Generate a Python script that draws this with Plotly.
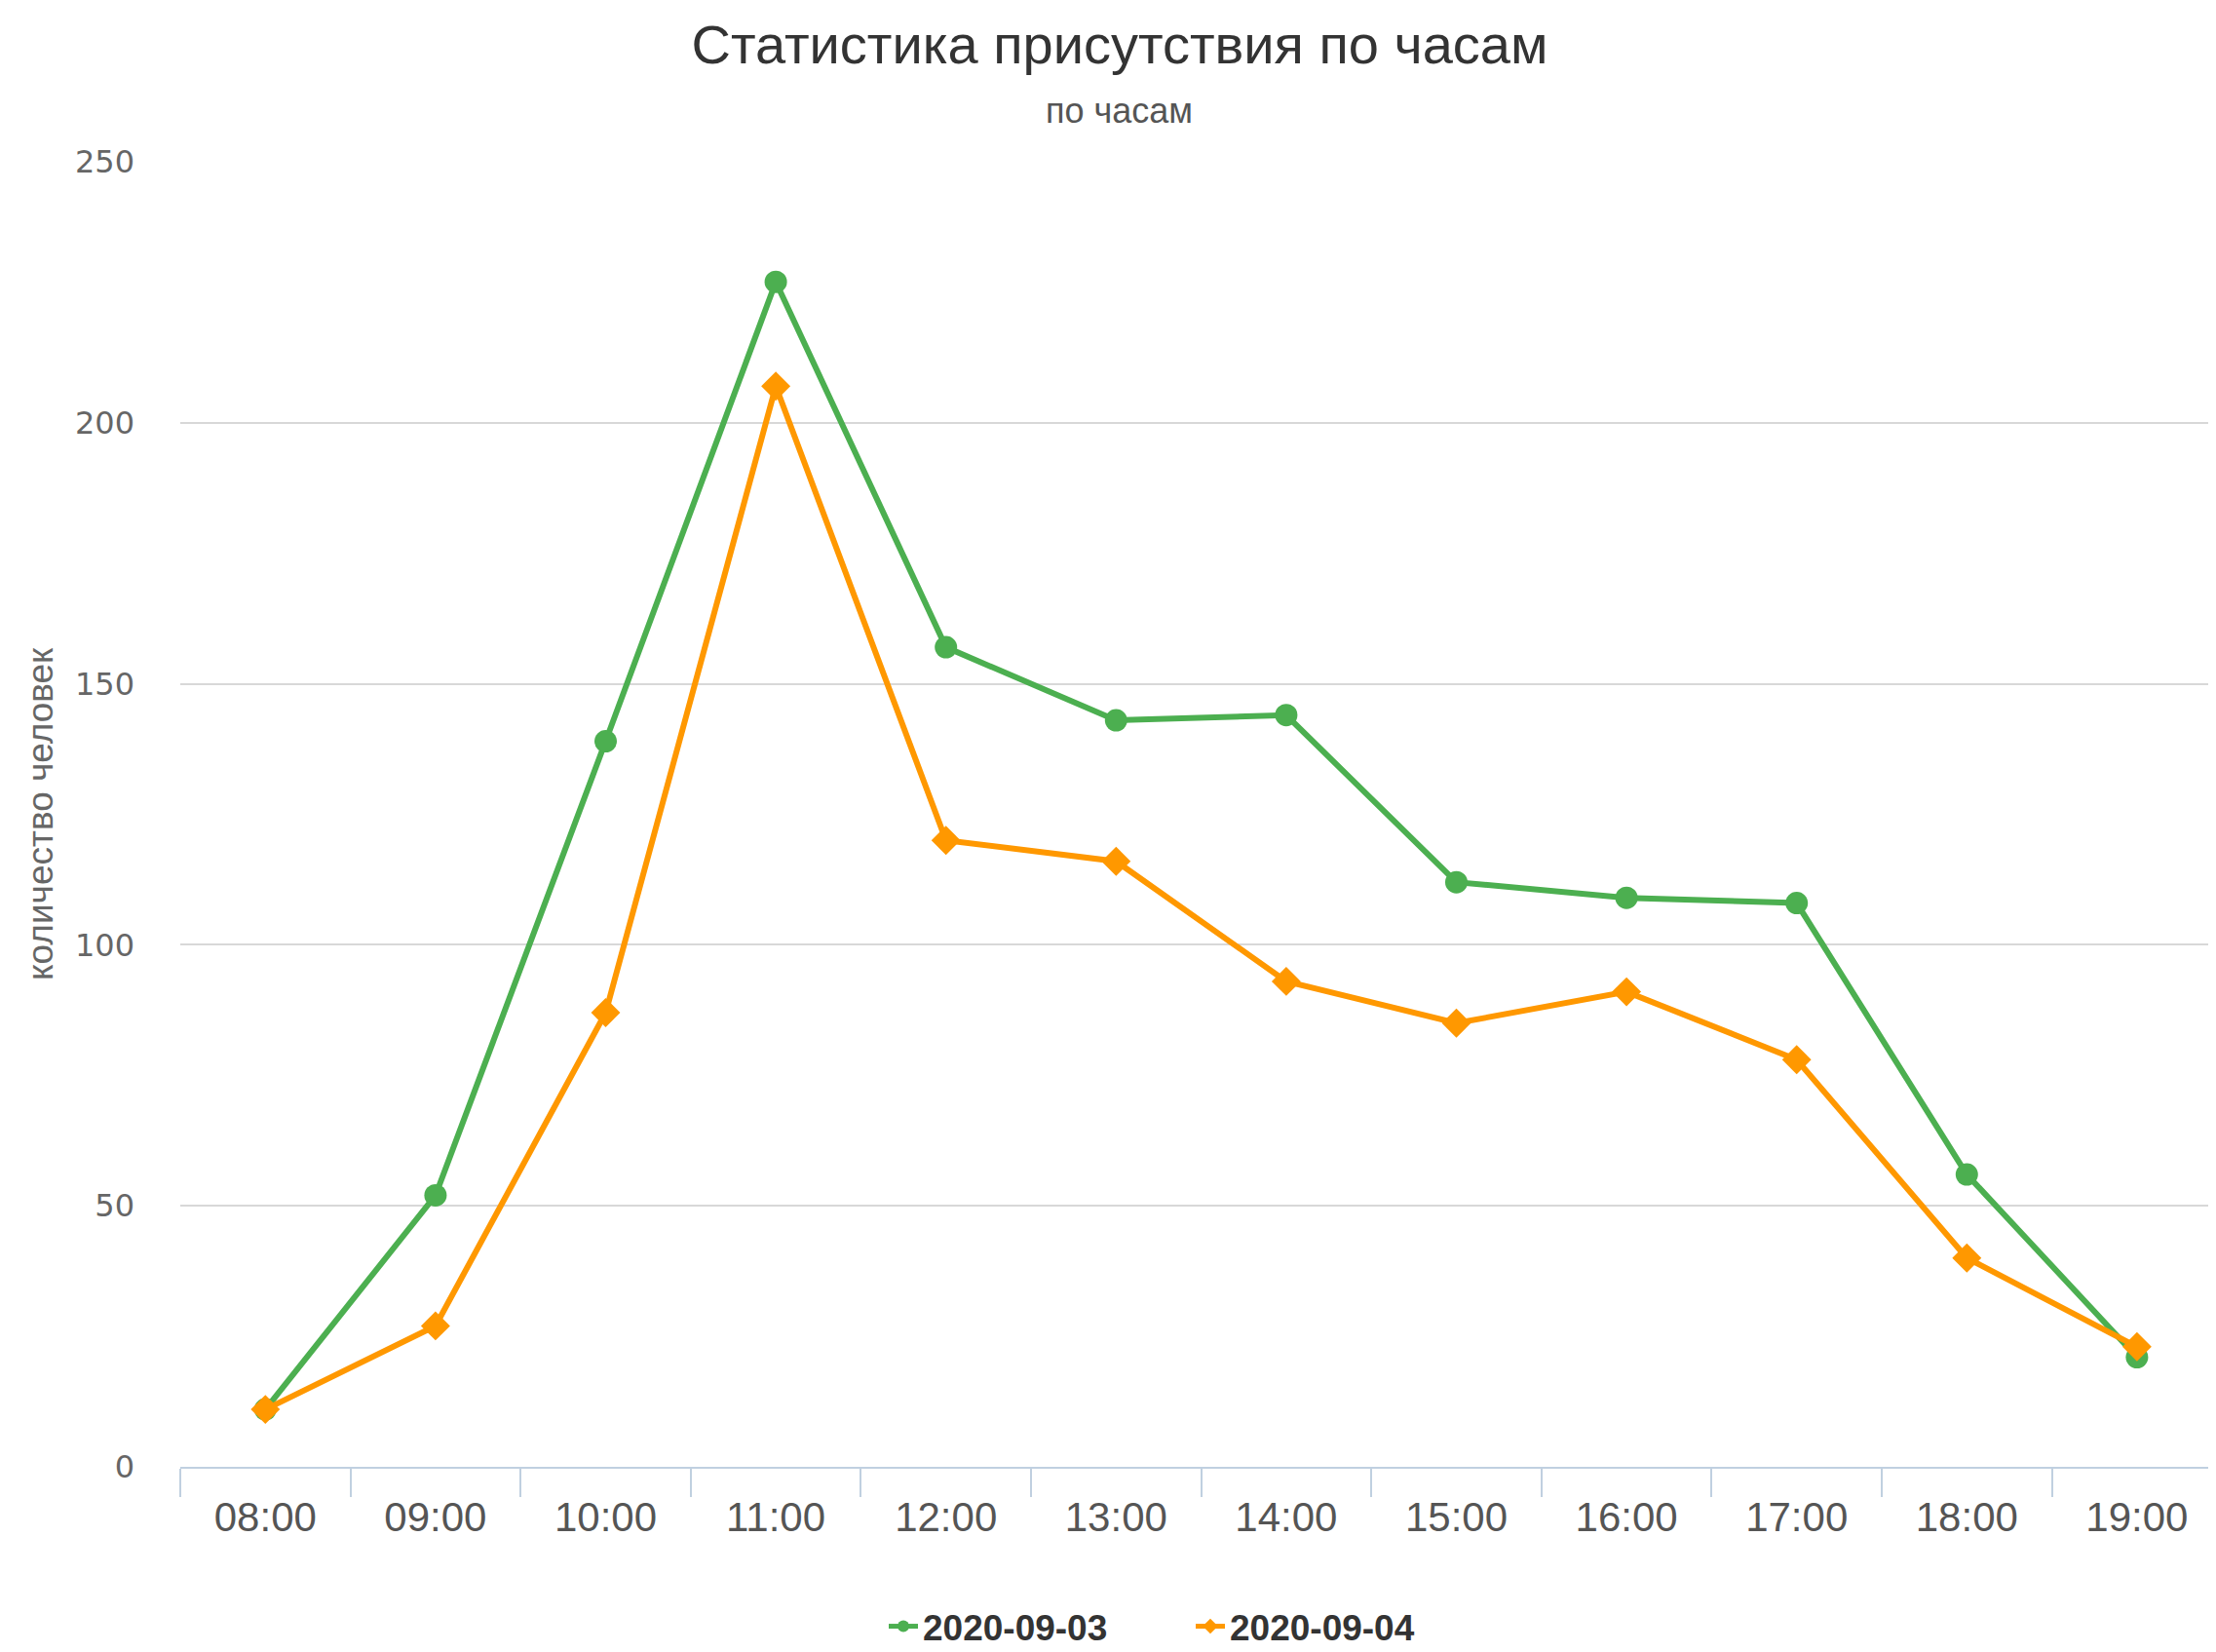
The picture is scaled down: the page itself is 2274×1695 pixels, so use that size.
import plotly.graph_objects as go

hours = ["08:00", "09:00", "10:00", "11:00", "12:00", "13:00",
         "14:00", "15:00", "16:00", "17:00", "18:00", "19:00"]
day1_name = "2020-09-03"
day1_values = [11, 52, 139, 227, 157, 143, 144, 112, 109, 108, 56, 21]
day2_name = "2020-09-04"
day2_values = [11, 27, 87, 207, 120, 116, 93, 85, 91, 78, 40, 23]

title_text = "Статистика присутствия по часам"
subtitle_text = "по часам"
y_title = "количество человек"

# page body has an 8px margin, so the figure is 8px smaller than the window
W, H = 2266, 1687
ML, MR, MT, MB = 177, 0, 158, 190
plot_w = W - ML - MR
plot_h = H - MT - MB


def px_x(x):
    return (x - ML) / plot_w


def px_y(y):
    return (H - MB - y) / plot_h


fig = go.Figure()
fig.add_trace(go.Scatter(
    x=hours, y=day1_values, name=day1_name, mode="lines+markers",
    line=dict(color="#4CAF50", width=6),
    marker=dict(symbol="circle", size=23, color="#4CAF50"),
    cliponaxis=False,
))
fig.add_trace(go.Scatter(
    x=hours, y=day2_values, name=day2_name, mode="lines+markers",
    line=dict(color="#FF9800", width=6),
    marker=dict(symbol="diamond", size=23, color="#FF9800"),
    cliponaxis=False,
))

fig.update_layout(
    width=W, height=H,
    margin=dict(l=ML, r=MR, t=MT, b=MB, autoexpand=False),
    paper_bgcolor="white", plot_bgcolor="white",
    title=dict(text=title_text, x=1141 / W, xanchor="center", y=1 - 37 / H,
               yanchor="middle", yref="container",
               font=dict(family="Liberation Sans", size=56, color="#333333")),
    showlegend=True,
    legend=dict(orientation="h", x=px_x(1214), xanchor="center",
                y=px_y(1661), yanchor="middle",
                font=dict(family="Liberation Sans", size=37, color="#333333", weight="bold"),
                entrywidth=270, entrywidthmode="pixels",
                itemsizing="constant", bgcolor="rgba(0,0,0,0)"),
    xaxis=dict(
        type="category", range=[-0.5, -0.5 + plot_w / 174.6],
        showgrid=False, showline=True, linecolor="#C0D0E0", linewidth=2,
        ticks="outside", tickson="boundaries", ticklen=29, tickcolor="#C0D0E0",
        tickwidth=2,
        tickfont=dict(family="Liberation Sans", size=42, color="#555555"),
        ticklabelstandoff=14,
    ),
    yaxis=dict(
        range=[0, 250], dtick=50, showgrid=True, gridcolor="#D8D8D8",
        gridwidth=2, zeroline=False, showline=False,
        tickfont=dict(family="DejaVu Sans", size=32, color="#666666"),
        ticklabelstandoff=46,
    ),
    annotations=[
        dict(text=subtitle_text, xref="paper", yref="paper",
             x=px_x(1140), y=px_y(105),
             xanchor="center", yanchor="middle", showarrow=False,
             font=dict(family="Liberation Sans", size=36, color="#555555")),
        dict(text=y_title, xref="paper", yref="paper",
             x=px_x(33), y=px_y(827),
             xanchor="center", yanchor="middle", showarrow=False, textangle=-90,
             font=dict(family="Liberation Sans", size=37, color="#666666")),
    ],
)

fig.write_html("out.html")
